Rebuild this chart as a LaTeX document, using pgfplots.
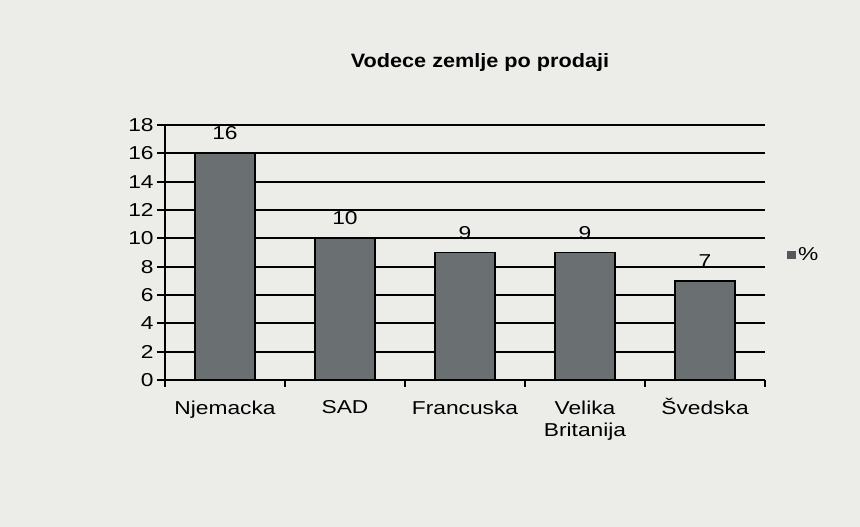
\documentclass[border=0pt]{standalone}
\usepackage{fontspec}
\setmainfont{Liberation Sans}
\newfontfamily\wide{Liberation Sans}[FakeStretch=1.22]
\newfontfamily\widet{Liberation Sans}[FakeStretch=1.12]
\usepackage{pgfplots}
\pgfplotsset{compat=1.18}
\definecolor{bg}{RGB}{236,236,233}
\definecolor{barc}{RGB}{106,111,114}
\begin{document}
\begin{tikzpicture}
\fill[bg] (-123.75pt,-110.25pt) rectangle (521.25pt,285pt);
\begin{axis}[
  at={(0,0)}, anchor=south west,
  scale only axis, width=450pt, height=191.25pt,
  xmin=-0.5, xmax=4.5, ymin=0, ymax=18,
  axis x line=bottom, axis y line=left,
  axis line style={black, line width=1.3pt, -},
  xtick={0,1,2,3,4},
  xticklabels={Njemacka,SAD,Francuska,{Velika\\Britanija},\smash{Š}vedska},
  x tick label style={align=center, font=\wide\fontsize{14pt}{17pt}\selectfont, yshift=-6pt},
  major x tick style={draw=none},
  minor xtick={-0.5,0.5,1.5,2.5,3.5,4.5},
  minor tick length=5pt,
  minor x tick style={black, line width=1pt},
  ytick={0,2,...,18},
  y tick label style={font=\wide\fontsize{14pt}{15pt}\selectfont, xshift=1pt},
  tick align=outside,
  major tick length=6pt,
  major y tick style={black, line width=1.3pt},
  ymajorgrids, grid style={black, line width=1.4pt},
  /pgf/number format/assume math mode=true,
  ybar, bar width=0.5,
  nodes near coords,
  every node near coord/.append style={font=\wide\fontsize{14pt}{15pt}\selectfont, yshift=6pt},
  title={\textbf{Vodece zemlje po prodaji}},
  title style={at={(0.525,1.215)}, anchor=center, font=\widet\fontsize{14.5pt}{16pt}\selectfont},
  legend style={at={(1.03,0.49)}, anchor=west, draw=none, fill=none, font=\wide\fontsize{14pt}{15pt}\selectfont},
  legend image code/.code={\fill[barc!80!black] (0pt,-2.5pt) rectangle (5pt,2.5pt);},
  clip=false,
]
\addplot[fill=barc, draw=black, line width=1.2pt] coordinates {(0,16) (1,10) (2,9) (3,9) (4,7)};
\addlegendentry{\%}
\end{axis}
\end{tikzpicture}
\end{document}
